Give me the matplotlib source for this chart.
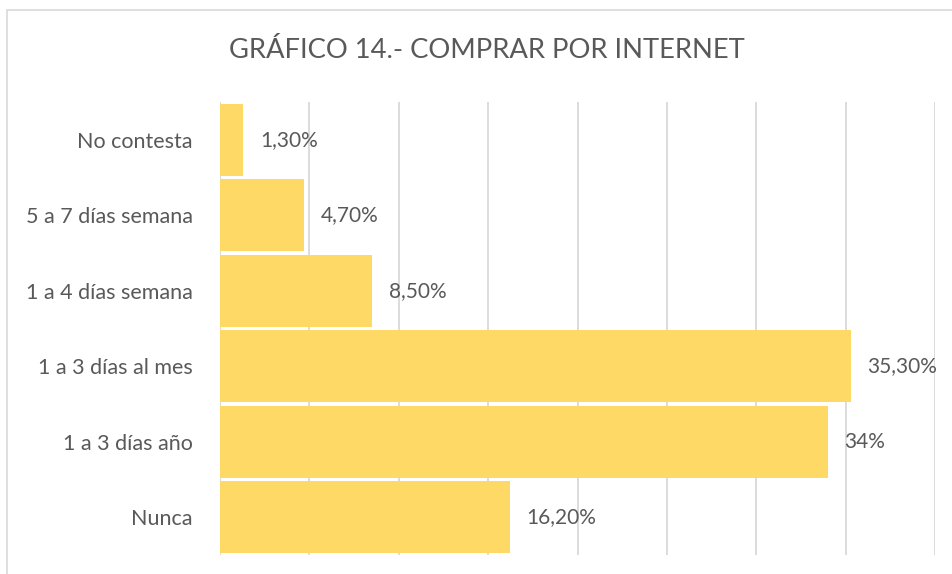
import matplotlib.pyplot as plt
from matplotlib.patches import Rectangle

# Data (bottom to top as drawn)
categories = ["Nunca", "1 a 3 días año", "1 a 3 días al mes",
              "1 a 4 días semana", "5 a 7 días semana", "No contesta"]
values = [16.2, 34.0, 35.3, 8.5, 4.7, 1.3]
value_labels = ["16,20%", "34%", "35,30%", "8,50%", "4,70%", "1,30%"]

plt.rcParams['font.family'] = ['Lato', 'DejaVu Sans']
text_color = '#595959'

fig = plt.figure(figsize=(9.52, 5.74), dpi=100)
W, H = 952, 574

# chart frame
fig.patches.append(Rectangle((7 / W, -0.1), 1.2, 1 - 10 / H + 0.1,
                             transform=fig.transFigure, fill=False,
                             edgecolor='#d9d9d9', linewidth=1.2))

ax = fig.add_axes([220 / W, 1 - 555 / H, (935 - 220) / W, (555 - 102) / H])
y = range(len(categories))
ax.barh(y, values, height=0.95, color='#FFD966', zorder=3)
ax.set_xlim(0, 40)
ax.set_ylim(-0.5, len(categories) - 0.5)

ax.set_xticks(range(0, 41, 5))
ax.xaxis.grid(True, color='#d9d9d9', linewidth=1.3, zorder=0)
ax.tick_params(axis='x', bottom=False, labelbottom=False)
ax.tick_params(axis='y', left=False, pad=16, labelsize=15.5, labelcolor=text_color)
ax.set_yticks(list(y))
ax.set_yticklabels(categories)
for s in ax.spines.values():
    s.set_visible(False)
ax.axvline(0, color='#d9d9d9', linewidth=1.3, zorder=1)

for i, (v, lab) in enumerate(zip(values, value_labels)):
    ax.annotate(lab, (v, i), xytext=(12, 0), textcoords='offset points',
                ha='left', va='center', fontsize=15, color=text_color)

fig.text(487 / W, 1 - 50 / H, "GRÁFICO 14.- COMPRAR POR INTERNET",
         ha='center', va='center', fontsize=19.7, color=text_color)

fig.savefig('out.png', dpi=100)
